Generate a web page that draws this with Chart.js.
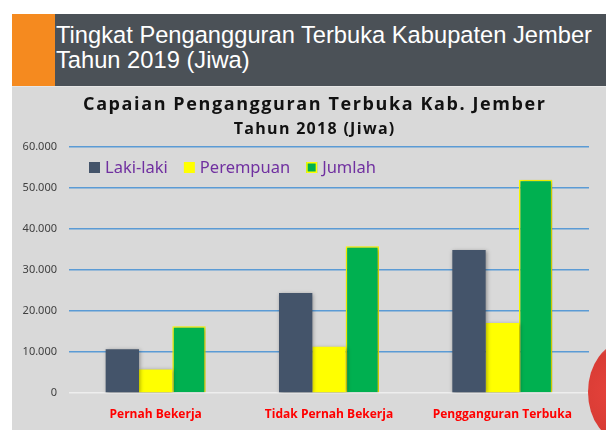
<!DOCTYPE html>
<html>
<head>
<meta charset="utf-8">
<script src="https://cdn.jsdelivr.net/npm/chart.js@4"></script>
<style>
  html,body{margin:0;padding:0;background:#fff;width:606px;height:430px;overflow:hidden;position:relative;font-family:"Liberation Sans",Arial,sans-serif;}
  #orange{position:absolute;left:12px;top:14px;width:43px;height:72px;background:#f58a1f;}
  #hdr{position:absolute;left:55px;top:14px;width:551px;height:72px;background:#4b5157;}
  #hdrtext{position:absolute;left:56px;top:23px;color:#fff;font-size:23.7px;line-height:24.5px;font-family:"Liberation Sans",Arial,sans-serif;}
  #panel{position:absolute;left:12px;top:87px;width:594px;height:343px;background:#d9d9d9;}
  #sep{position:absolute;left:12px;top:86px;width:594px;height:1px;background:#e6e6e6;}
  #wrap{position:absolute;left:12px;top:86px;width:594px;height:344px;}
  #red{position:absolute;left:588px;top:342px;width:74px;height:100px;border-radius:50%;background:radial-gradient(circle at 40% 50%, #e8322a 0%, #d82a22 60%, #f0a0a0 100%);opacity:0.9;}
</style>
</head>
<body>
<div id="orange"></div>
<div id="hdr"></div>
<div id="hdrtext">Tingkat Pengangguran Terbuka Kabupaten Jember<br>Tahun 2019 (Jiwa)</div>
<div id="panel"></div>
<div id="sep"></div>
<div id="wrap"><canvas id="c" width="594" height="344"></canvas></div>
<div id="red"></div>
<script>
const categories = ["Pernah Bekerja", "Tidak Pernah Bekerja", "Pengganguran Terbuka"];
const seriesNames = ["Laki-laki", "Perempuan", "Jumlah"];
const lakiLaki = [10650, 24400, 34900];
const perempuan = [5750, 11300, 17100];
const jumlah = [16300, 35800, 52000];
const yTicks = [0, 10000, 20000, 30000, 40000, 50000, 60000];
const chartTitle = "Capaian Pengangguran Terbuka Kab. Jember";
const chartSubtitle = "Tahun 2018 (Jiwa)";

function drawSpaced(ctx, text, cx, y, spacing) {
  const chars = Array.from(text);
  const widths = chars.map(ch => ctx.measureText(ch).width);
  const total = widths.reduce((a, b) => a + b, 0) + spacing * (chars.length - 1);
  let x = cx - total / 2;
  ctx.textAlign = 'left';
  chars.forEach((ch, i) => { ctx.fillText(ch, x, y); x += widths[i] + spacing; });
}

const shadowPlugin = {
  id: 'barShadow',
  beforeDatasetsDraw(chart) {
    const ctx = chart.ctx;
    ctx.save();
    ctx.shadowColor = 'rgba(0,0,0,0.35)';
    ctx.shadowBlur = 4;
    ctx.shadowOffsetX = 1;
    ctx.shadowOffsetY = 1;
  },
  afterDatasetsDraw(chart) {
    chart.ctx.restore();
  }
};

const titleLegendPlugin = {
  id: 'titleLegend',
  afterDraw(chart) {
    const ctx = chart.ctx;
    ctx.save();
    ctx.fillStyle = '#111';
    ctx.textBaseline = 'alphabetic';
    ctx.font = 'bold 18px "Open Sans"';
    drawSpaced(ctx, chartTitle, 302, 23.7, 1.6);
    ctx.font = 'bold 16px "Open Sans"';
    drawSpaced(ctx, chartSubtitle, 302, 48, 1.3);
    // legend
    const area = chart.chartArea;
    let x = area.left + 20;
    const boxTop = area.top + 15;
    ctx.font = '16.5px "Noto Sans"';
    chart.data.datasets.forEach(ds => {
      ctx.fillStyle = ds.backgroundColor;
      ctx.fillRect(x, boxTop, 11, 11);
      if (ds.borderWidth) {
        ctx.strokeStyle = ds.borderColor;
        ctx.lineWidth = 1.5;
        ctx.strokeRect(x + 0.75, boxTop + 0.75, 9.5, 9.5);
      }
      x += 16;
      ctx.fillStyle = '#7030a0';
      ctx.fillText(ds.label, x, boxTop + 11);
      x += ctx.measureText(ds.label).width + 16;
    });
    ctx.restore();
  }
};

new Chart(document.getElementById('c'), {
  type: 'bar',
  data: {
    labels: categories,
    datasets: [
      { label: seriesNames[0], data: lakiLaki, backgroundColor: '#44546a', borderWidth: 0 },
      { label: seriesNames[1], data: perempuan, backgroundColor: '#ffff00', borderWidth: 0 },
      { label: seriesNames[2], data: jumlah, backgroundColor: '#00b050', borderColor: '#ffff00', borderWidth: 1.5 }
    ]
  },
  options: {
    responsive: false,
    animation: false,
    layout: { padding: { left: 0, right: 17, top: 61, bottom: 9 } },
    datasets: { bar: { categoryPercentage: 0.577, barPercentage: 1.0 } },
    plugins: {
      title: { display: false },
      legend: { display: false },
      tooltip: { enabled: false }
    },
    scales: {
      x: {
        afterFit(scale) { scale.height = 28; },
        grid: { display: false, drawTicks: false },
        border: { display: false },
        ticks: { color: '#ff0000', font: { family: 'Open Sans', size: 12, weight: 'bold' }, padding: 14, maxRotation: 0 }
      },
      y: {
        min: 0, max: 60000,
        afterFit(scale) { scale.width = 57; },
        afterBuildTicks(scale) { scale.ticks = yTicks.map(v => ({ value: v })); },
        grid: {
          drawTicks: false,
          color: (c) => c.tick && c.tick.value === 0 ? '#eeeeee' : '#5b9bd5',
          lineWidth: 1.5
        },
        border: { display: false },
        ticks: {
          color: '#404040', padding: 12,
          font: { family: 'Noto Sans', size: 11 },
          callback: (v) => v === 0 ? '0' : v.toLocaleString('de-DE')
        }
      }
    }
  },
  plugins: [shadowPlugin, titleLegendPlugin]
});
</script>
</body>
</html>
